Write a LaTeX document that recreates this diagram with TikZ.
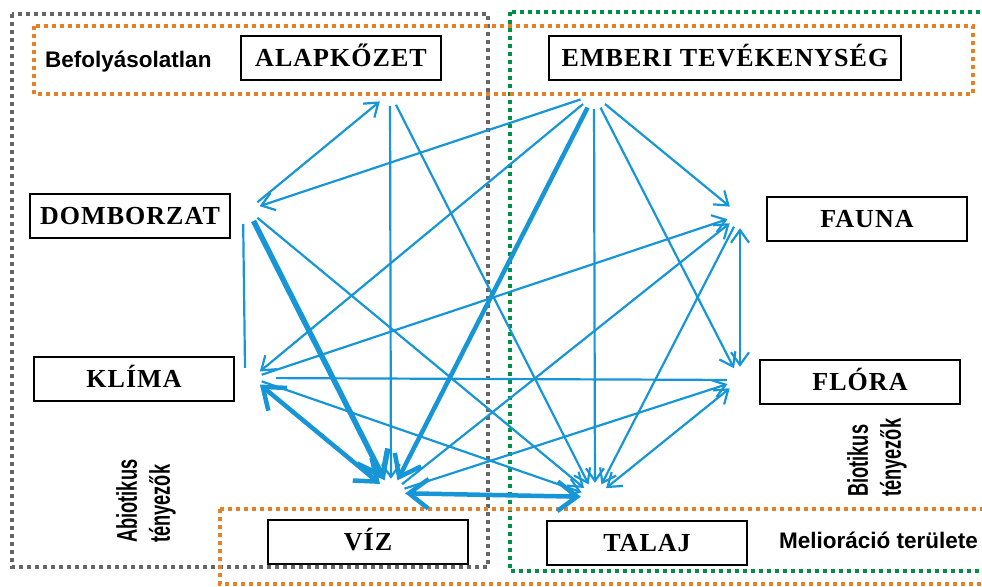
\documentclass[tikz,border=0pt]{standalone}
\usepackage{fontspec}
\newfontfamily\boxfont{Liberation Serif}[LetterSpace=4]
\newfontfamily\notefont{Liberation Sans}
\newfontfamily\narrowfont{Liberation Sans}[FakeStretch=0.64]
\usetikzlibrary{arrows.meta}
\definecolor{linkblue}{RGB}{22,150,214}
\definecolor{zoneorange}{RGB}{228,128,40}
\definecolor{zonegreen}{RGB}{0,145,70}
\definecolor{zonegray}{RGB}{105,100,100}
\tikzset{
  factor/.style={draw=black, line width=2pt, fill=white, inner sep=0pt,
    minimum width=200pt, minimum height=44pt, text height=17pt, text depth=0pt,
    font=\boxfont\bfseries\fontsize{26}{28}\selectfont},
  port/.style={circle, inner sep=0pt, minimum size=26pt},
  zone/.style={line width=4pt, dash pattern=on 4pt off 4pt},
  note/.style={inner sep=0pt, font=\notefont\bfseries\fontsize{22.5}{26}\selectfont},
  sidenote/.style={inner sep=0pt, rotate=90, align=left, anchor=north west,
    font=\narrowfont\bfseries\fontsize{28.5}{33}\selectfont},
  link/.style={draw=linkblue, line width=2.2pt, ->},
  heavy/.style={line width=4.5pt},
  plain/.style={draw=linkblue, line width=2.2pt},
  >={Straight Barb[length=6pt 3, width=7pt 5]}
}
\begin{document}
\begin{tikzpicture}[x=1pt, y=-1pt]
  \useasboundingbox (0,0) rectangle (982,586);
  \clip (0,0) rectangle (982,586);
  \draw[zone, zonegray] (12,14) rectangle (488,567);
  \draw[zone, zonegreen] (510,12) rectangle (990,571);
  \draw[zone, zoneorange] (34,26) rectangle (973,94);
  \draw[zone, zoneorange] (220,509) rectangle (995,584);

  \node[factor] (alap) at (341,58) {ALAPKŐZET};
  \node[factor, minimum width=352pt] (ember) at (725,58) {EMBERI TEVÉKENYSÉG};
  \node[factor] (dombor) at (130,216) {DOMBORZAT};
  \node[factor] (fauna) at (867,219) {FAUNA};
  \node[factor] (klima) at (134,379) {KLÍMA};
  \node[factor] (flora) at (860,382) {FLÓRA};
  \node[factor] (viz) at (368,542) {VÍZ};
  \node[factor] (talaj) at (647,543) {TALAJ};

  \node[note, anchor=base west] (befoly) at (45,67) {Befolyásolatlan};
  \node[note, anchor=base west] (melior) at (779,548) {Melioráció területe};
  \node[sidenote] (abiot) at (116,543) {Abiotikus\\tényezők};
  \node[sidenote] (biot) at (847,497) {Biotikus\\tényezők};

  \node[port] (pA) at (390,93) {};
  \node[port, minimum size=28pt] (pE) at (594,95) {};
  \node[port, minimum size=24pt] (pD) at (248,210) {};
  \node[port] (pF) at (740,215) {};
  \node[port, minimum size=20pt] (pK) at (252,378) {};
  \node[port] (pFl) at (740,380) {};
  \node[port, minimum size=28pt] (pV) at (391,493) {};
  \node[port, minimum size=28pt] (pT) at (595,497) {};

  \begin{scope}
    \draw[link] (pD) -- (pA);
    \draw[link] (pA) -- (pV);
    \draw[link] (pA) -- (pT);
    \draw[link] (pE) -- (pD);
    \draw[link] (pE) -- (pK);
    \draw[link, heavy] (pE) -- (pV);
    \draw[link] (pE) -- (pT);
    \draw[link] (pE) -- (pFl);
    \draw[link] (pE) -- (pF);
    \draw[link, <->] (pF) -- (pFl);
    \draw[link] (pK) -- (pF);
    \draw[link] (pV) -- (pF);
    \draw[link] (pF) -- (pT);
    \draw[plain, shorten <=14pt] (pK) -- (pFl);
    \draw[link] (pV) -- (pFl);
    \draw[link, <->] (pFl) -- (pT);
    \draw[plain, shorten <=14pt] ([xshift=-5pt]pD.center) -- ([xshift=-7pt]pK.north);
    \draw[link, heavy, line width=5.5pt] (pD) -- (pV);
    \draw[link] (pD) -- (pT);
    \draw[link, heavy, <->] (pK) -- (pV);
    \draw[link] (pK) -- (pT);
    \draw[link, heavy, <->] (pV) -- (pT);
  \end{scope}
\end{tikzpicture}
\end{document}
